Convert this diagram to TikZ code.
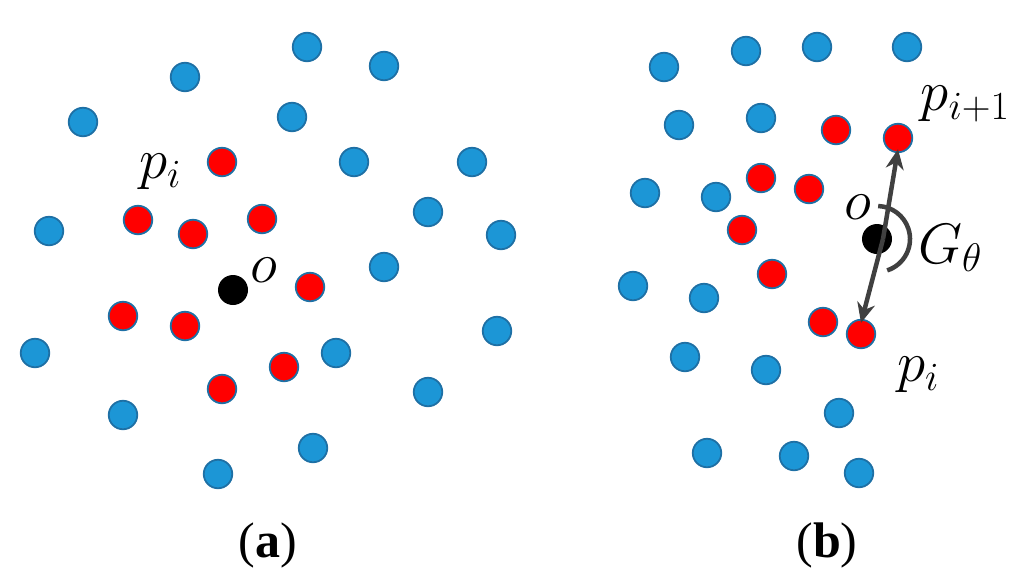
\RequirePackage{fix-cm}
\documentclass[tikz,border=0pt]{standalone}
\usepackage{fontspec}
\setmainfont{Liberation Serif}
\usetikzlibrary{arrows.meta}
\definecolor{dotblue}{RGB}{28,150,214}
\definecolor{dotedge}{RGB}{30,112,165}
\definecolor{arrgray}{RGB}{64,64,64}
\tikzset{
  bdot/.style={circle,fill=dotblue,draw=dotedge,line width=1.8pt,minimum size=28.5pt,inner sep=0pt},
  rdot/.style={circle,fill=red,draw=dotedge,line width=1.8pt,minimum size=28.5pt,inner sep=0pt},
  kdot/.style={circle,fill=black,minimum size=30pt,inner sep=0pt},
  mlabel/.style={font=\fontsize{57}{57}\selectfont,inner sep=0pt},
  caplabel/.style={font=\fontsize{50}{50}\selectfont,inner sep=0pt},
  garrow/.style={draw=arrgray,line width=4.5pt,-{Stealth[length=20pt,width=18pt]}}
}
\begin{document}
\begin{tikzpicture}[x=1pt,y=-1pt]
\useasboundingbox (0,0) rectangle (1024,576);
% panel (a) blue
\foreach \n/\x/\y in {a1/307/47,a2/384/66,a3/185/77,a4/83/122,a5/292/117,a6/354/162,a7/472/162,a8/428/212,a9/49/231,a10/501/235,a11/384/267,a12/497/331,a13/35/353,a14/336/353,a15/428/392,a16/123/415,a17/313/448,a18/218/474}
  \node[bdot] (\n) at (\x,\y) {};
% panel (a) red
\foreach \n/\x/\y in {ar1/222/162,ar2/138/220,ar3/193/234,ar4/262/219,ar5/310/287,ar6/123/316,ar7/185/326,ar8/284/367,ar9/222/389}
  \node[rdot] (\n) at (\x,\y) {};
\node[kdot] (ao) at (233,290) {};
\node[mlabel] (aol) at (264,270) {$o$};
\node[mlabel] (api) at (160,172) {$p_i$};
\node[caplabel] (acap) at (268,545) {(\textbf{a})};
% panel (b) blue
\foreach \n/\x/\y in {b1/664/67,b2/746/51,b3/817/47,b4/907/47,b5/679/125,b6/761/118,b7/645/193,b8/716/197,b9/633/286,b10/704/298,b11/685/357,b12/766/370,b13/839/413,b14/707/453,b15/794/456,b16/859/473}
  \node[bdot] (\n) at (\x,\y) {};
% panel (b) red
\foreach \n/\x/\y in {br1/836/130,br2/898/138,br3/761/178,br4/809/189,br5/742/230,br6/772/274,br7/823/322,br8/861/334}
  \node[rdot] (\n) at (\x,\y) {};
\node[kdot] (bo) at (877,239) {};
\coordinate (bc) at (883,239);
\draw[garrow] (bc) -- ([yshift=4pt]br2.south);
\draw[garrow] (bc) -- ([yshift=-4pt]br8.north);
\draw[draw=arrgray,line width=4.5pt] (bo.center) ++(72:33) arc[start angle=72,end angle=-88,radius=33];
\node[mlabel] (bol) at (858,207) {$o$};
\node[mlabel] (bg) at (950,248) {$G_\theta$};
\node[mlabel] (bpi1) at (965,104) {$p_{i+1}$};
\node[mlabel] (bpi) at (918,375) {$p_i$};
\node[caplabel] (bcap) at (827,545) {(\textbf{b})};
\end{tikzpicture}
\end{document}
